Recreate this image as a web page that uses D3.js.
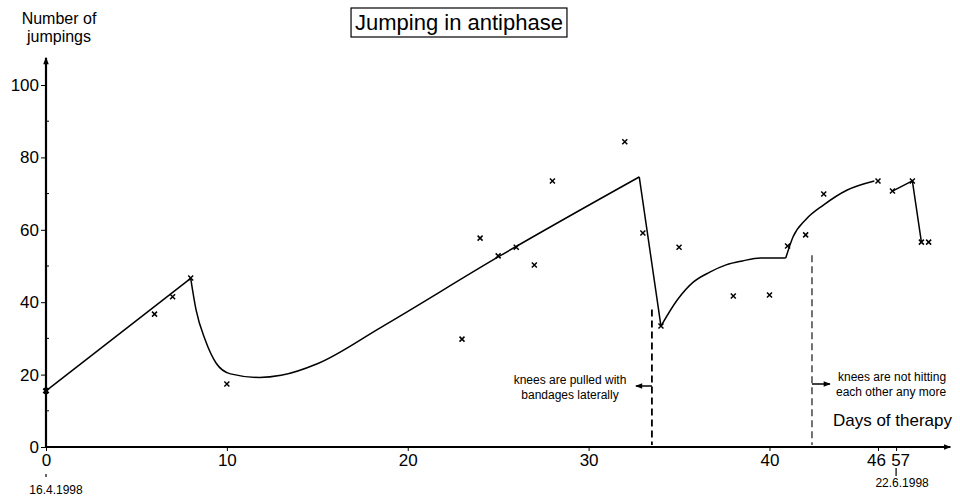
<!DOCTYPE html>
<html>
<head>
<meta charset="utf-8">
<script src="https://cdn.jsdelivr.net/npm/d3@7"></script>
<style>
  body { margin: 0; background: #fff; }
  text { font-family: "Liberation Sans", Arial, sans-serif; fill: #000; }
</style>
</head>
<body>
<div id="chart"></div>
<script>
// Measured values (day of therapy, number of jumpings)
var markDays = [0, 6, 7, 8, 10, 23, 24, 25, 26, 27, 28, 32, 33, 34, 35, 38, 40, 41, 42, 43, 46, 46.8, 47.9, 48.4, 48.8];
var markJumps = [15.5, 36.7, 41.5, 46.7, 17.4, 29.8, 57.7, 52.8, 55.2, 50.3, 73.5, 84.3, 59.1, 33.4, 55.2, 41.7, 42, 55.5, 58.6, 69.9, 73.5, 70.7, 73.5, 56.6, 56.6];

// Trend line pieces
var trendRise1 = [[0, 15.5], [8, 46.6]];
var trendDip1 = [[8, 46.6], [8.3, 37.8], [8.8, 29.6], [9.4, 23.2], [10.2, 20.2], [11.8, 19.2], [13, 19.8], [15, 23], [18.5, 33], [25, 52.5], [32.8, 74.6]];
var trendDrop = [[32.8, 74.6], [34, 33.4]];
var trendRecover = [[34, 33.4], [34.9, 40.6], [35.8, 45.6], [36.7, 48.3], [37.6, 50.3], [38.5, 51.4], [39.5, 52.2], [40.9, 52.2]];
var trendRise2 = [[40.9, 52.2], [41.3, 58], [42, 62.8], [43, 66.9], [44.3, 71], [45.8, 73.5]];
var trendEnd = [[46.8, 70.7], [47.9, 73.5], [48.4, 56.6]];

// Axis ticks
var xTickValues = [0, 10, 20, 30, 40, 46, 47];
var xTickLabels = ['0', '10', '20', '30', '40', '46', '57'];
var yTickValues = [0, 20, 40, 60, 80, 100];
var yMinorValues = [10, 30, 50, 70, 90];
var dateLabels = [{ day: 0, text: '16.4.1998' }, { day: 47, text: '22.6.1998' }];
var changeDays = [33.5, 42.35];

var width = 960;
var height = 499;

var scaleX = d3.scaleLinear()
  .domain([0, 46])
  .range([46, 878]);

var scaleY = d3.scaleLinear()
  .domain([0, 100])
  .range([447, 85]);

var svg = d3.select('#chart')
  .append('svg')
  .attr('width', width)
  .attr('height', height);

var defs = svg.append('defs');
defs.append('marker')
  .attr('id', 'arrow')
  .attr('viewBox', '0 0 10 10')
  .attr('refX', 9)
  .attr('refY', 5)
  .attr('markerWidth', 10)
  .attr('markerHeight', 7)
  .attr('markerUnits', 'userSpaceOnUse')
  .attr('orient', 'auto')
  .append('path')
  .attr('d', 'M0,1 L10,5 L0,9 Z')
  .attr('fill', '#000');

// Axis lines with arrow heads
svg.append('line')
  .attr('x1', scaleX(0)).attr('y1', scaleY(0))
  .attr('x2', scaleX(50)).attr('y2', scaleY(0))
  .attr('stroke', '#000').attr('stroke-width', 2.2)
  .attr('marker-end', 'url(#arrow)');

svg.append('line')
  .attr('x1', scaleX(0)).attr('y1', scaleY(0))
  .attr('x2', scaleX(0)).attr('y2', scaleY(107.5))
  .attr('stroke', '#000').attr('stroke-width', 2.2)
  .attr('marker-end', 'url(#arrow)');

// Axes
var axisX = d3.axisBottom(scaleX)
  .tickValues(xTickValues)
  .tickFormat(function (d, i) { return xTickLabels[i]; })
  .tickSize(4)
  .tickPadding(3);

var gx = svg.append('g')
  .attr('transform', 'translate(0,' + scaleY(0) + ')')
  .call(axisX);
gx.select('.domain').remove();
gx.selectAll('text')
  .attr('font-size', 17)
  .attr('font-family', '"Liberation Sans", Arial, sans-serif')
  .attr('dx', function (d) { return d === 46 ? -2 : (d === 47 ? 4 : 0); });

var axisY = d3.axisLeft(scaleY)
  .tickValues(yTickValues)
  .tickSize(5)
  .tickPadding(2);

var gy = svg.append('g')
  .attr('transform', 'translate(' + scaleX(0) + ',0)')
  .call(axisY);
gy.select('.domain').remove();
gy.selectAll('text')
  .attr('font-size', 17)
  .attr('font-family', '"Liberation Sans", Arial, sans-serif');

svg.append('g')
  .selectAll('line')
  .data(yMinorValues)
  .enter()
  .append('line')
  .attr('x1', scaleX(0) - 1)
  .attr('x2', scaleX(0) + 3)
  .attr('y1', function (d) { return scaleY(d); })
  .attr('y2', function (d) { return scaleY(d); })
  .attr('stroke', '#000')
  .attr('stroke-width', 1);

// Date labels under the axis
var dates = svg.append('g')
  .selectAll('g')
  .data(dateLabels)
  .enter()
  .append('g');

dates.append('line')
  .attr('x1', function (d) { return scaleX(d.day); })
  .attr('x2', function (d) { return scaleX(d.day); })
  .attr('y1', function (d) { return d.day === 0 ? 474 : 468; })
  .attr('y2', function (d) { return d.day === 0 ? 477 : 476; })
  .attr('stroke', '#000')
  .attr('stroke-width', 1.2);

dates.append('text')
  .attr('x', function (d) { return scaleX(d.day) + (d.day === 0 ? 10 : 6); })
  .attr('y', function (d) { return d.day === 0 ? 494 : 487; })
  .attr('text-anchor', 'middle')
  .attr('font-size', 12)
  .text(function (d) { return d.text; });

// Dashed lines where the therapy changed
svg.append('g')
  .selectAll('line')
  .data(changeDays)
  .enter()
  .append('line')
  .attr('x1', function (d) { return scaleX(d); })
  .attr('x2', function (d) { return scaleX(d); })
  .attr('y1', function (d, i) { return i === 0 ? scaleY(38) : scaleY(53); })
  .attr('y2', scaleY(0) - 2)
  .attr('stroke', '#000')
  .attr('stroke-width', function (d, i) { return i === 0 ? 1.8 : 1.1; })
  .attr('stroke-dasharray', '7,4');

// Trend line
var lineStraight = d3.line()
  .x(function (d) { return scaleX(d[0]); })
  .y(function (d) { return scaleY(d[1]); });

var lineSmooth = d3.line()
  .x(function (d) { return scaleX(d[0]); })
  .y(function (d) { return scaleY(d[1]); })
  .curve(d3.curveMonotoneX);

var straightPieces = [trendRise1, trendDrop, trendEnd];
var smoothPieces = [trendDip1, trendRecover, trendRise2];

straightPieces.forEach(function (p) {
  svg.append('path')
    .attr('d', lineStraight(p))
    .attr('stroke', '#000')
    .attr('stroke-width', 1.5)
    .attr('fill', 'none');
});

smoothPieces.forEach(function (p) {
  svg.append('path')
    .attr('d', lineSmooth(p))
    .attr('stroke', '#000')
    .attr('stroke-width', 1.5)
    .attr('fill', 'none');
});

// Measurement crosses
svg.append('g')
  .selectAll('path')
  .data(markDays)
  .enter()
  .append('path')
  .attr('d', function (d, i) {
    var cx = scaleX(d);
    var cy = scaleY(markJumps[i]);
    var r = 2.5;
    return 'M' + (cx - r) + ',' + (cy - r) + 'L' + (cx + r) + ',' + (cy + r) +
      'M' + (cx - r) + ',' + (cy + r) + 'L' + (cx + r) + ',' + (cy - r);
  })
  .attr('stroke', '#000')
  .attr('stroke-width', function (d, i) { return i === 0 ? 2.5 : 1.5; })
  .attr('fill', 'none');

// Annotations
svg.append('line')
  .attr('x1', scaleX(changeDays[0])).attr('y1', 386)
  .attr('x2', scaleX(changeDays[0]) - 16).attr('y2', 386)
  .attr('stroke', '#000').attr('stroke-width', 1.5)
  .attr('marker-end', 'url(#arrow)');

svg.append('line')
  .attr('x1', scaleX(changeDays[1])).attr('y1', 384)
  .attr('x2', scaleX(changeDays[1]) + 18).attr('y2', 384)
  .attr('stroke', '#000').attr('stroke-width', 1.5)
  .attr('marker-end', 'url(#arrow)');

var noteLeft = svg.append('text')
  .attr('text-anchor', 'middle')
  .attr('font-size', 12);
noteLeft.append('tspan').attr('x', 570).attr('y', 384).text('knees are pulled with');
noteLeft.append('tspan').attr('x', 570).attr('y', 399).text('bandages laterally');

var noteRight = svg.append('text')
  .attr('font-size', 12);
noteRight.append('tspan').attr('x', 838).attr('y', 381).text('knees are not hitting');
noteRight.append('tspan').attr('x', 836).attr('y', 396).text('each other any more');

svg.append('text')
  .attr('x', 952)
  .attr('y', 426)
  .attr('text-anchor', 'end')
  .attr('font-size', 17)
  .text('Days of therapy');

// Y axis title
var yTitle = svg.append('text')
  .attr('text-anchor', 'middle')
  .attr('font-size', 16);
yTitle.append('tspan').attr('x', 59).attr('y', 24).text('Number of');
yTitle.append('tspan').attr('x', 59).attr('y', 42).text('jumpings');

// Boxed title
var title = svg.append('text')
  .attr('x', 459)
  .attr('y', 30)
  .attr('text-anchor', 'middle')
  .attr('font-size', 22)
  .text('Jumping in antiphase');

var tb = title.node().getBBox();
svg.append('rect')
  .attr('x', tb.x - 4)
  .attr('y', 8)
  .attr('width', tb.width + 8)
  .attr('height', 29)
  .attr('fill', 'none')
  .attr('stroke', '#000')
  .attr('stroke-width', 1.2);
</script>
</body>
</html>
